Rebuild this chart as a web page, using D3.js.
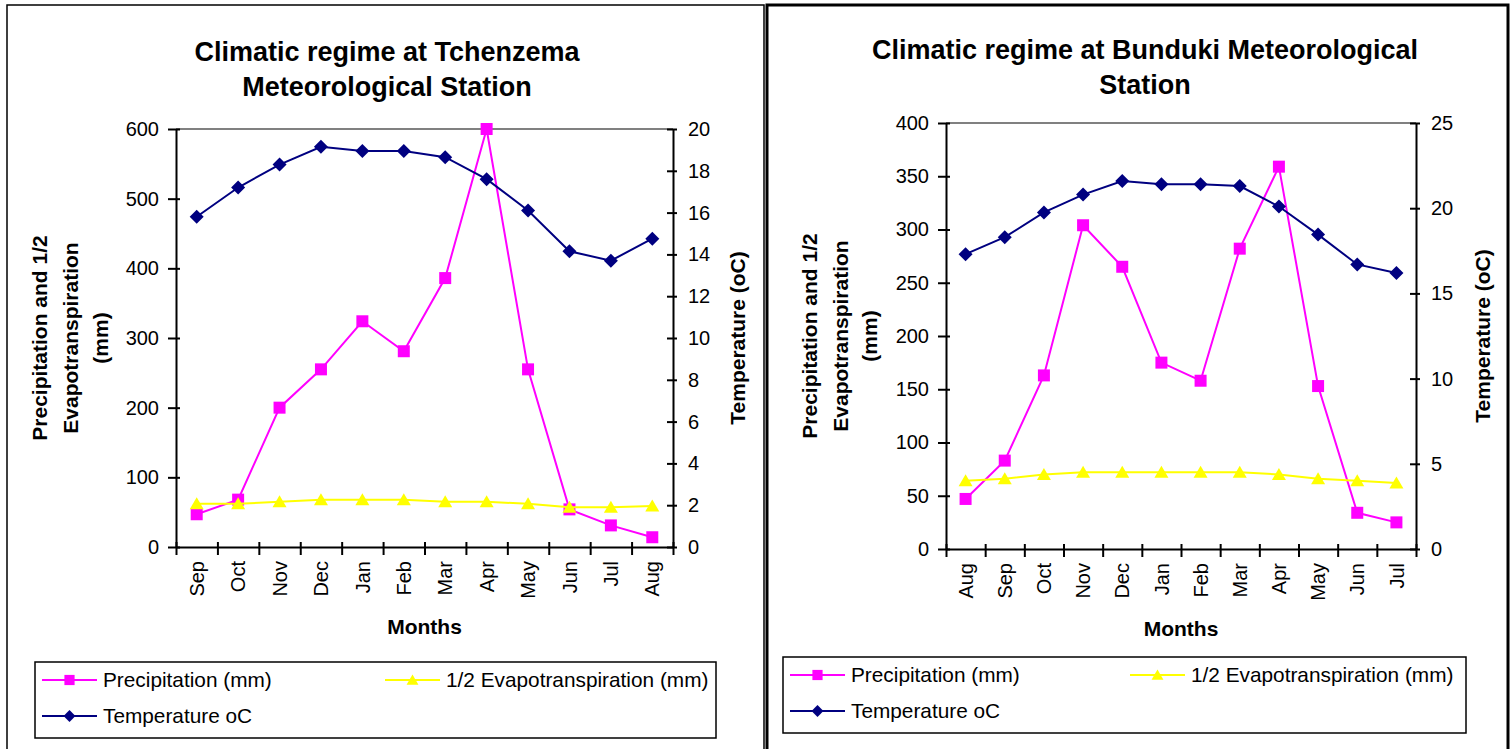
<!DOCTYPE html>
<html>
<head>
<meta charset="utf-8">
<script src="https://cdn.jsdelivr.net/npm/d3@7"></script>
<style>
  body { margin: 0; background: #fff; }
  svg { display: block; }
  text { font-family: "Liberation Sans", Arial, Helvetica, sans-serif; fill: #000; }
</style>
</head>
<body>
<svg id="chart" width="1510" height="749"></svg>
<script>
// ---- Tchenzema station (Sep .. Aug) ----
const tchenzemaMonths = ["Sep", "Oct", "Nov", "Dec", "Jan", "Feb", "Mar", "Apr", "May", "Jun", "Jul", "Aug"];
const tchenzemaPrecip = [47, 68, 200, 255, 324, 281, 386, 600, 255, 54, 31, 14];
const tchenzemaHalfEvap = [62, 62, 65, 68, 68, 68, 65, 65, 62, 57, 57, 59];
const tchenzemaTemp = [15.8, 17.2, 18.3, 19.15, 18.95, 18.95, 18.65, 17.6, 16.1, 14.15, 13.7, 14.75];
const tchenzemaLeftTicks = [0, 100, 200, 300, 400, 500, 600];
const tchenzemaRightTicks = [0, 2, 4, 6, 8, 10, 12, 14, 16, 18, 20];

// ---- Bunduki station (Aug .. Jul) ----
const bundukiMonths = ["Aug", "Sep", "Oct", "Nov", "Dec", "Jan", "Feb", "Mar", "Apr", "May", "Jun", "Jul"];
const bundukiPrecip = [47, 83, 163, 304, 265, 175, 158, 282, 359, 153, 34, 25];
const bundukiHalfEvap = [64, 66, 70, 72, 72, 72, 72, 72, 70, 66, 64, 62];
const bundukiTemp = [17.3, 18.3, 19.75, 20.8, 21.6, 21.4, 21.4, 21.3, 20.1, 18.45, 16.7, 16.2];
const bundukiLeftTicks = [0, 50, 100, 150, 200, 250, 300, 350, 400];
const bundukiRightTicks = [0, 5, 10, 15, 20, 25];

const legendLabels = ["Precipitation (mm)", "1/2 Evapotranspiration (mm)", "Temperature oC"];
const yTitleLines = ["Precipitation and 1/2", "Evapotranspiration", "(mm)"];

const COL_PRECIP = "#ff00ff", COL_EVAP = "#ffff00", COL_TEMP = "#000080";

const svg = d3.select("#chart");

// marker shapes
const squarePath = "M-6,-6H6V6H-6Z";
const trianglePath = "M0,-6.5L7,5.5L-7,5.5Z";
const diamondPath = "M0,-7L7,0L0,7L-7,0Z";

function drawChart(cfg) {
  const g = svg.append("g");

  // outer frame
  g.append("rect")
    .attr("x", cfg.frame[0]).attr("y", cfg.frame[1])
    .attr("width", cfg.frame[2] - cfg.frame[0]).attr("height", cfg.frame[3] - cfg.frame[1])
    .attr("fill", "none").attr("stroke", "#000").attr("stroke-width", cfg.frameWidth);

  // title
  const title = g.append("text")
    .attr("text-anchor", "middle")
    .style("font-size", "27px").style("font-weight", "bold");
  cfg.title.forEach((t, i) => {
    title.append("tspan").attr("x", cfg.titleX).attr("y", cfg.titleY + i * 35).text(t);
  });

  const x = d3.scaleBand().domain(cfg.months).range([cfg.x0, cfg.x1]).padding(0);
  const xi = d3.scaleLinear().domain([0, cfg.months.length]).range([cfg.x0, cfg.x1]);
  const yL = d3.scaleLinear().domain([0, d3.max(cfg.leftTicks)]).range([cfg.yB, cfg.yT]);
  const yR = d3.scaleLinear().domain([0, d3.max(cfg.rightTicks)]).range([cfg.yB, cfg.yT]);
  const cx = m => x(m) + x.bandwidth() / 2;

  // plot area top border
  g.append("line")
    .attr("x1", cfg.x0).attr("x2", cfg.x1).attr("y1", cfg.yT).attr("y2", cfg.yT)
    .attr("stroke", "#808080").attr("stroke-width", 2);

  // series
  const series = [
    { vals: cfg.precip, y: yL, color: COL_PRECIP, shape: squarePath },
    { vals: cfg.evap, y: yL, color: COL_EVAP, shape: trianglePath },
    { vals: cfg.temp, y: yR, color: COL_TEMP, shape: diamondPath }
  ];
  series.forEach(s => {
    const pts = cfg.months.map((m, i) => [cx(m), s.y(s.vals[i])]);
    g.append("path")
      .attr("d", d3.line()(pts))
      .attr("fill", "none").attr("stroke", s.color).attr("stroke-width", 2);
    g.selectAll(null).data(pts).enter().append("path")
      .attr("d", s.shape)
      .attr("transform", d => `translate(${d[0]},${d[1]})`)
      .attr("fill", s.color);
  });

  // left axis
  const aL = g.append("g").attr("transform", `translate(${cfg.x0},0)`)
    .call(d3.axisLeft(yL).tickValues(cfg.leftTicks).tickSizeInner(8).tickSizeOuter(0).tickPadding(9));
  aL.selectAll(".tick line").attr("x1", 4).attr("stroke-width", 2);
  // right axis
  const aR = g.append("g").attr("transform", `translate(${cfg.x1},0)`)
    .call(d3.axisRight(yR).tickValues(cfg.rightTicks).tickSizeInner(4).tickSizeOuter(0).tickPadding(11));
  aR.selectAll(".tick line").attr("x1", -6).attr("stroke-width", 2);
  // bottom axis: tick marks at category boundaries
  const aB = g.append("g").attr("transform", `translate(0,${cfg.yB})`)
    .call(d3.axisBottom(xi).tickValues(d3.range(cfg.months.length + 1)).tickSizeInner(8).tickSizeOuter(0).tickFormat(""));
  aB.selectAll(".tick line").attr("y1", -5).attr("stroke-width", 2);
  // bottom axis labels at category centres
  const aBL = g.append("g").attr("transform", `translate(0,${cfg.yB})`)
    .call(d3.axisBottom(x).tickSize(0));
  aBL.select(".domain").remove();
  aBL.selectAll(".tick text")
    .attr("transform", "rotate(-90)")
    .attr("text-anchor", "end")
    .attr("x", -14).attr("y", 0).attr("dy", "0.36em");

  [aL, aR, aB, aBL].forEach(a => {
    a.selectAll(".domain").attr("stroke", "#000").attr("stroke-width", 2);
    a.selectAll("text").style("font-size", "20px").style("font-family", "\"Liberation Sans\", Arial, sans-serif").attr("fill", "#000");
    a.selectAll(".tick line").attr("stroke", "#000");
  });

  // axis titles
  const midY = (cfg.yT + cfg.yB) / 2;
  yTitleLines.forEach((t, i) => {
    g.append("text")
      .attr("transform", `translate(${cfg.yTitleX[i]},${midY}) rotate(-90)`)
      .attr("text-anchor", "middle").attr("dy", "0.36em")
      .style("font-size", "21px").style("font-weight", "bold")
      .text(t);
  });
  g.append("text")
    .attr("transform", `translate(${cfg.rTitleX},${midY}) rotate(-90)`)
    .attr("text-anchor", "middle").attr("dy", "0.36em")
    .style("font-size", "21px").style("font-weight", "bold")
    .text("Temperature (oC)");
  g.append("text")
    .attr("x", (cfg.x0 + cfg.x1) / 2).attr("y", cfg.monthsY)
    .attr("text-anchor", "middle")
    .style("font-size", "21px").style("font-weight", "bold")
    .text("Months");

  // legend
  const L = cfg.legend;
  g.append("rect")
    .attr("x", L.x).attr("y", L.y).attr("width", L.w).attr("height", L.h)
    .attr("fill", "#fff").attr("stroke", "#000").attr("stroke-width", 1.5);
  const items = [
    { label: legendLabels[0], color: COL_PRECIP, shape: squarePath, col: 0, row: 0 },
    { label: legendLabels[1], color: COL_EVAP, shape: trianglePath, col: 1, row: 0 },
    { label: legendLabels[2], color: COL_TEMP, shape: diamondPath, col: 0, row: 1 }
  ];
  items.forEach(it => {
    const lx = L.x + 7 + it.col * L.colGap;
    const ly = L.y + 18 + it.row * 36;
    g.append("line").attr("x1", lx).attr("x2", lx + 55).attr("y1", ly).attr("y2", ly)
      .attr("stroke", it.color).attr("stroke-width", 2);
    g.append("path").attr("d", it.shape).attr("transform", `translate(${lx + 27.5},${ly}) scale(0.85)`)
      .attr("fill", it.color);
    g.append("text").attr("x", lx + 61).attr("y", ly + 7)
      .style("font-size", "20.8px").text(it.label);
  });
}

drawChart({
  frame: [7, 5, 764, 760], frameWidth: 1.5,
  title: ["Climatic regime at Tchenzema", "Meteorological Station"], titleX: 387, titleY: 61,
  months: tchenzemaMonths, precip: tchenzemaPrecip, evap: tchenzemaHalfEvap, temp: tchenzemaTemp,
  leftTicks: tchenzemaLeftTicks, rightTicks: tchenzemaRightTicks,
  x0: 176, x1: 673, yT: 129, yB: 547,
  yTitleX: [39, 70, 100], rTitleX: 737, monthsY: 634,
  legend: { x: 35, y: 662, w: 681, h: 76, colGap: 343 }
});

drawChart({
  frame: [767, 5, 1508, 760], frameWidth: 3,
  title: ["Climatic regime at Bunduki Meteorological", "Station"], titleX: 1145, titleY: 59,
  months: bundukiMonths, precip: bundukiPrecip, evap: bundukiHalfEvap, temp: bundukiTemp,
  leftTicks: bundukiLeftTicks, rightTicks: bundukiRightTicks,
  x0: 946, x1: 1416, yT: 123, yB: 549,
  yTitleX: [809, 840, 869], rTitleX: 1482, monthsY: 636,
  legend: { x: 783, y: 657, w: 683, h: 76, colGap: 340 }
});
</script>
</body>
</html>
